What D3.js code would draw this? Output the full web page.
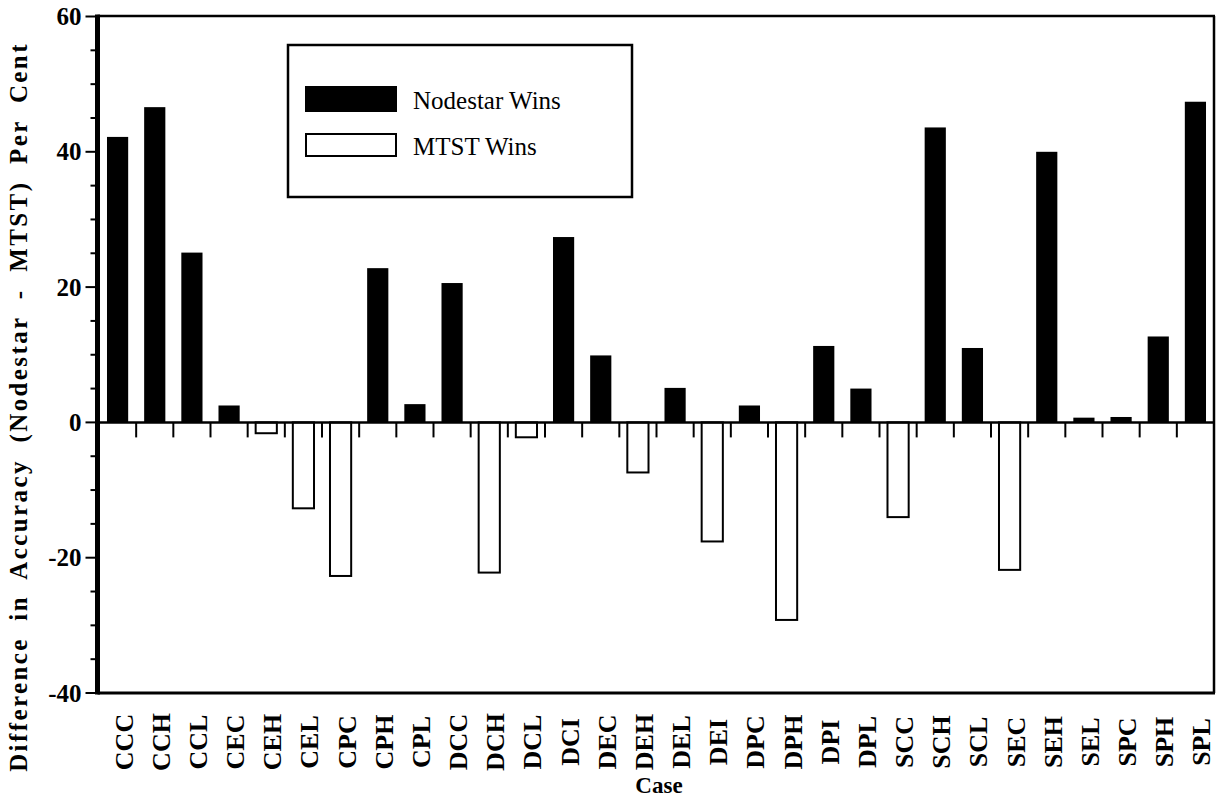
<!DOCTYPE html>
<html>
<head>
<meta charset="utf-8">
<script src="https://cdn.jsdelivr.net/npm/d3@7"></script>
<style>
  html, body { margin: 0; padding: 0; background: #fff; }
  svg { display: block; }
</style>
</head>
<body>
<svg id="chart" width="1217" height="799" font-family="Liberation Serif, Times New Roman, serif"></svg>
<script>
// Case codes along the x axis
const cases = ["CCC","CCH","CCL","CEC","CEH","CEL","CPC","CPH","CPL","DCC",
               "DCH","DCL","DCI","DEC","DEH","DEL","DEI","DPC","DPH","DPI",
               "DPL","SCC","SCH","SCL","SEC","SEH","SEL","SPC","SPH","SPL"];

// Accuracy difference (Nodestar - MTST), per cent
const accuracyDiff = [42.2, 46.6, 25.1, 2.5, -1.6, -12.7, -22.7, 22.8, 2.7, 20.6,
                      -22.2, -2.2, 27.4, 9.9, -7.4, 5.1, -17.6, 2.5, -29.2, 11.3,
                      5.0, -14.0, 43.6, 11.0, -21.8, 40.0, 0.7, 0.8, 12.7, 47.4];

const yMajorTicks = [-40, -20, 0, 20, 40, 60];
const yMinorTicks = [-35, -30, -25, -15, -10, -5, 5, 10, 15, 25, 30, 35, 45, 50, 55];
const legendItems = ["Nodestar Wins", "MTST Wins"];
const yTitle = "Difference in Accuracy (Nodestar - MTST) Per Cent";
const xTitle = "Case";

const FONT = "'Liberation Serif', 'Times New Roman', serif";
const svg = d3.select("#chart");
const plot = { left: 97.5, right: 1214, top: 16, bottom: 693 };

const x = d3.scaleBand()
  .domain(cases)
  .range([99, plot.right])
  .paddingInner(0.43)
  .paddingOuter(0.215);
const step = x.step();

const y = d3.scaleLinear().domain([-40, 60]).range([693, 16.5]);

// Bars: solid where Nodestar wins, open where MTST wins
svg.append("g").selectAll("rect")
  .data(cases.map((c, i) => ({ c, v: accuracyDiff[i] })))
  .join("rect")
  .attr("x", d => x(d.c))
  .attr("width", x.bandwidth())
  .attr("y", d => d.v >= 0 ? y(d.v) : y(0))
  .attr("height", d => Math.abs(y(d.v) - y(0)))
  .attr("fill", d => d.v >= 0 ? "#000" : "#fff")
  .attr("stroke", d => d.v >= 0 ? "none" : "#000")
  .attr("stroke-width", 2);

// Zero line with downward ticks between neighbouring cases
svg.append("line")
  .attr("x1", plot.left).attr("x2", plot.right)
  .attr("y1", y(0)).attr("y2", y(0))
  .attr("stroke", "#000").attr("stroke-width", 2.5);

const gap = step - x.bandwidth();
svg.append("g").selectAll("line")
  .data(cases.slice(1))
  .join("line")
  .attr("x1", c => x(c) - gap / 2)
  .attr("x2", c => x(c) - gap / 2)
  .attr("y1", y(0)).attr("y2", y(0) + 15)
  .attr("stroke", "#000").attr("stroke-width", 2);

// Frame
svg.append("line").attr("x1", plot.left).attr("x2", plot.right + 1)
  .attr("y1", plot.top).attr("y2", plot.top)
  .attr("stroke", "#000").attr("stroke-width", 2.5);
svg.append("line").attr("x1", plot.right).attr("x2", plot.right)
  .attr("y1", plot.top).attr("y2", plot.bottom)
  .attr("stroke", "#000").attr("stroke-width", 2.5);
svg.append("line").attr("x1", plot.left).attr("x2", plot.right + 1)
  .attr("y1", plot.bottom).attr("y2", plot.bottom)
  .attr("stroke", "#000").attr("stroke-width", 3);

// Y axis
const yAxis = svg.append("g").attr("transform", `translate(${plot.left},0)`);
yAxis.append("line")
  .attr("x1", 0).attr("x2", 0)
  .attr("y1", plot.top - 1.5).attr("y2", plot.bottom + 1.5)
  .attr("stroke", "#000").attr("stroke-width", 5);
yAxis.selectAll("line.major")
  .data(yMajorTicks).join("line").attr("class", "major")
  .attr("x1", -12).attr("x2", 0)
  .attr("y1", d => y(d)).attr("y2", d => y(d))
  .attr("stroke", "#000").attr("stroke-width", 2);
yAxis.selectAll("line.minor")
  .data(yMinorTicks).join("line").attr("class", "minor")
  .attr("x1", -7).attr("x2", 0)
  .attr("y1", d => y(d)).attr("y2", d => y(d))
  .attr("stroke", "#000").attr("stroke-width", 2);
yAxis.selectAll("text")
  .data(yMajorTicks).join("text")
  .attr("x", -16).attr("y", d => y(d))
  .attr("dy", "0.34em")
  .attr("text-anchor", "end")
  .attr("font-family", FONT)
  .attr("font-size", 25).attr("font-weight", "bold")
  .text(d => d);

// Case labels
svg.append("g").selectAll("text")
  .data(cases).join("text")
  .attr("transform", c => `translate(${x(c) + x.bandwidth() / 2 + 15},742) rotate(-90)`)
  .attr("text-anchor", "middle")
  .attr("font-family", FONT)
  .attr("font-size", 26).attr("font-weight", "bold")
  .text(c => c);

// Axis titles
svg.append("text")
  .attr("transform", "translate(27,407) rotate(-90)")
  .attr("text-anchor", "middle")
  .attr("font-family", FONT)
  .attr("font-size", 25).attr("font-weight", "bold")
  .style("letter-spacing", "2.4px")
  .style("word-spacing", "8px")
  .text(yTitle);

svg.append("text")
  .attr("x", 659).attr("y", 793)
  .attr("text-anchor", "middle")
  .attr("font-family", FONT)
  .attr("font-size", 23).attr("font-weight", "bold")
  .text(xTitle);

// Legend
const legend = svg.append("g");
legend.append("rect")
  .attr("x", 288).attr("y", 45).attr("width", 344).attr("height", 152)
  .attr("fill", "#fff").attr("stroke", "#000").attr("stroke-width", 2.5);
legend.selectAll("rect.swatch")
  .data(legendItems).join("rect").attr("class", "swatch")
  .attr("x", 306).attr("y", (d, i) => i === 0 ? 87 : 134)
  .attr("width", 90).attr("height", (d, i) => i === 0 ? 24 : 22)
  .attr("fill", (d, i) => i === 0 ? "#000" : "#fff")
  .attr("stroke", "#000").attr("stroke-width", 2);
legend.selectAll("text")
  .data(legendItems).join("text")
  .attr("x", 413).attr("y", (d, i) => i === 0 ? 109 : 155)
  .attr("font-family", FONT)
  .attr("font-size", 25)
  .text(d => d);
</script>
</body>
</html>
